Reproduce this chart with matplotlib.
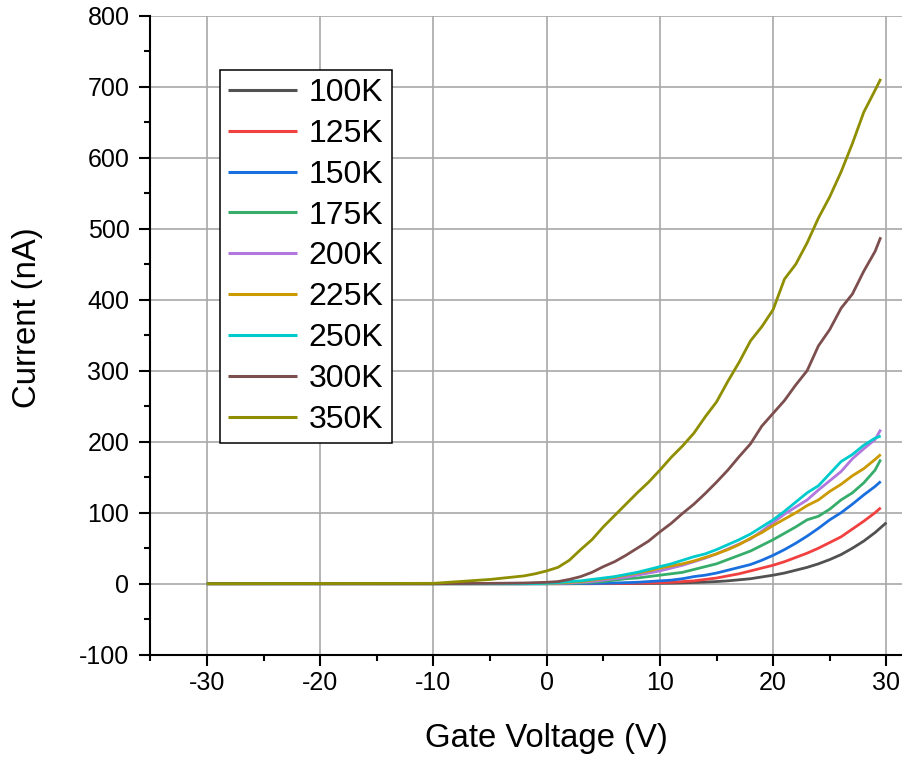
import matplotlib
matplotlib.use("Agg")
import matplotlib.pyplot as plt
from matplotlib.ticker import MultipleLocator

plt.rcParams['font.family'] = ['Liberation Sans', 'DejaVu Sans']
plt.rcParams['axes.unicode_minus'] = False

# ---- data ----
neg_v = [-30, -10, -5, -2, -1]
gate_v = neg_v + list(range(0, 30)) + [29.5]
gate_v_100k = neg_v + list(range(0, 31))

labels = ["100K", "125K", "150K", "175K", "200K", "225K", "250K", "300K", "350K"]
colors = ["#515151", "#F14040", "#1A6FDF", "#37AD6B", "#B177DE",
          "#CC9900", "#00CBCC", "#7D4E4E", "#8E8E00"]

i_100k = [0, 0, 0, 0, 0,
          0, 0, 0, 0, 0, 0.1, 0.1, 0.2, 0.3, 0.4, 0.6, 0.8, 1.2, 1.7, 2.3,
          3, 4, 5.5, 7, 9.5, 12, 15, 19, 23, 28, 34, 41, 50, 60, 72, 86]
i_125k = [0, 0, 0, 0, 0,
          0, 0, 0, 0.1, 0.1, 0.2, 0.3, 0.5, 0.8, 1, 1.5, 2, 3, 4, 6,
          8, 11, 14, 18, 22, 26, 31, 37, 43, 50, 58, 66, 77, 88, 100, 107]
i_150k = [0, 0, 0, 0, 0,
          0, 0, 0.1, 0.2, 0.4, 0.6, 1, 1.5, 2, 3, 4, 5, 7, 10, 12,
          15, 19, 23, 27, 33, 40, 48, 57, 67, 78, 90, 100, 112, 125, 137, 144]
i_175k = [0, 0, 0, 0, 0,
          0, 0.3, 0.6, 1, 2, 3, 5, 7, 8, 10, 12, 14, 16, 20, 24,
          28, 34, 40, 46, 54, 62, 71, 80, 90, 95, 105, 118, 128, 142, 160, 175]
i_200k = [0, 0, 0, 0, 0,
          0, 0.5, 1, 2, 3, 5, 7, 9, 12, 15, 18, 22, 26, 31, 36,
          42, 49, 56, 63, 74, 86, 98, 108, 118, 132, 145, 158, 176, 190, 203, 217]
i_225k = [0, 0, 0, 0, 0.1,
          0.3, 1, 2, 3, 5, 7, 9, 12, 15, 18, 22, 25, 28, 32, 37,
          42, 48, 55, 64, 72, 82, 91, 100, 110, 118, 130, 140, 152, 162, 175, 182]
i_250k = [0, 0, 0, 0, 0.2,
          0.5, 1.5, 3, 4, 6, 8, 10, 13, 16, 20, 24, 28, 33, 38, 42,
          48, 55, 62, 70, 80, 90, 102, 115, 128, 138, 155, 172, 182, 195, 205, 208]
i_300k = [0, 0, 0.5, 1, 1.5,
          2, 3, 6, 10, 16, 24, 31, 40, 50, 60, 73, 85, 99, 112, 127,
          143, 160, 179, 197, 222, 240, 258, 280, 300, 335, 358, 388, 408, 440, 468, 488]
i_350k = [0, 0.5, 6, 11, 14,
          18, 23, 33, 48, 62, 80, 96, 112, 128, 143, 160, 178, 194, 212, 235,
          256, 285, 312, 342, 362, 386, 429, 450, 480, 515, 545, 580, 620, 664, 695, 711]

series = [i_100k, i_125k, i_150k, i_175k, i_200k, i_225k, i_250k, i_300k, i_350k]
xs = [gate_v_100k] + [gate_v] * 8

# ---- figure ----
W, H = 903, 757
fig = plt.figure(figsize=(W / 100, H / 100), dpi=100)
left_px, right_px, top_px, bot_px = 150.3, 943.0, 15.7, 654.7
ax = fig.add_axes([left_px / W, 1 - bot_px / H,
                   (right_px - left_px) / W, (bot_px - top_px) / H])

for x, y, c, lab in zip(xs, series, colors, labels):
    ax.plot(x, y, color=c, lw=2.0, label=lab, solid_capstyle='butt')

ax.set_xlim(-35, 35)
ax.set_ylim(-100, 800)
ax.xaxis.set_major_locator(MultipleLocator(10))
ax.xaxis.set_minor_locator(MultipleLocator(5))
ax.yaxis.set_major_locator(MultipleLocator(100))
ax.yaxis.set_minor_locator(MultipleLocator(50))

ax.grid(True, which='major', color='#a8a8a8', lw=1.2)
ax.set_axisbelow(True)

for s in ['top', 'right']:
    ax.spines[s].set_visible(False)
for s in ['left', 'bottom']:
    ax.spines[s].set_linewidth(1.5)

ax.tick_params(which='major', direction='out', length=8, width=1.5,
               labelsize=18, pad=4)
ax.tick_params(which='minor', direction='out', length=4, width=1.5)
ax.tick_params(axis='y', which='major', pad=7)

fig.canvas.draw()
ygl = ax.get_ygridlines()
ygl[-1].set_visible(False)
ygl[0].set_visible(False)

ax.set_xlabel("Gate Voltage (V)", fontsize=23.7)
ax.set_ylabel("Current (nA)", fontsize=23.7)
ax.xaxis.set_label_coords(0.5, ((H - 739) / H - (1 - bot_px / H)) / ((bot_px - top_px) / H))
ax.xaxis.label.set_verticalalignment('center')
ax.yaxis.set_label_coords((27.5 / W - left_px / W) / ((right_px - left_px) / W),
                          (bot_px - 318) / (bot_px - top_px))
ax.yaxis.label.set_verticalalignment('center')

leg = ax.legend(loc='upper left', bbox_to_anchor=(220 / W, 1 - 70 / H),
                bbox_transform=fig.transFigure, borderaxespad=0,
                fontsize=23, frameon=True, fancybox=False, framealpha=1,
                edgecolor='black', handlelength=2.15, handletextpad=0.38,
                labelspacing=0.34, borderpad=0.25)
leg.get_frame().set_linewidth(1.1)
for ln in leg.get_lines():
    ln.set_linewidth(2.2)

fig.savefig("out.png", dpi=100)
